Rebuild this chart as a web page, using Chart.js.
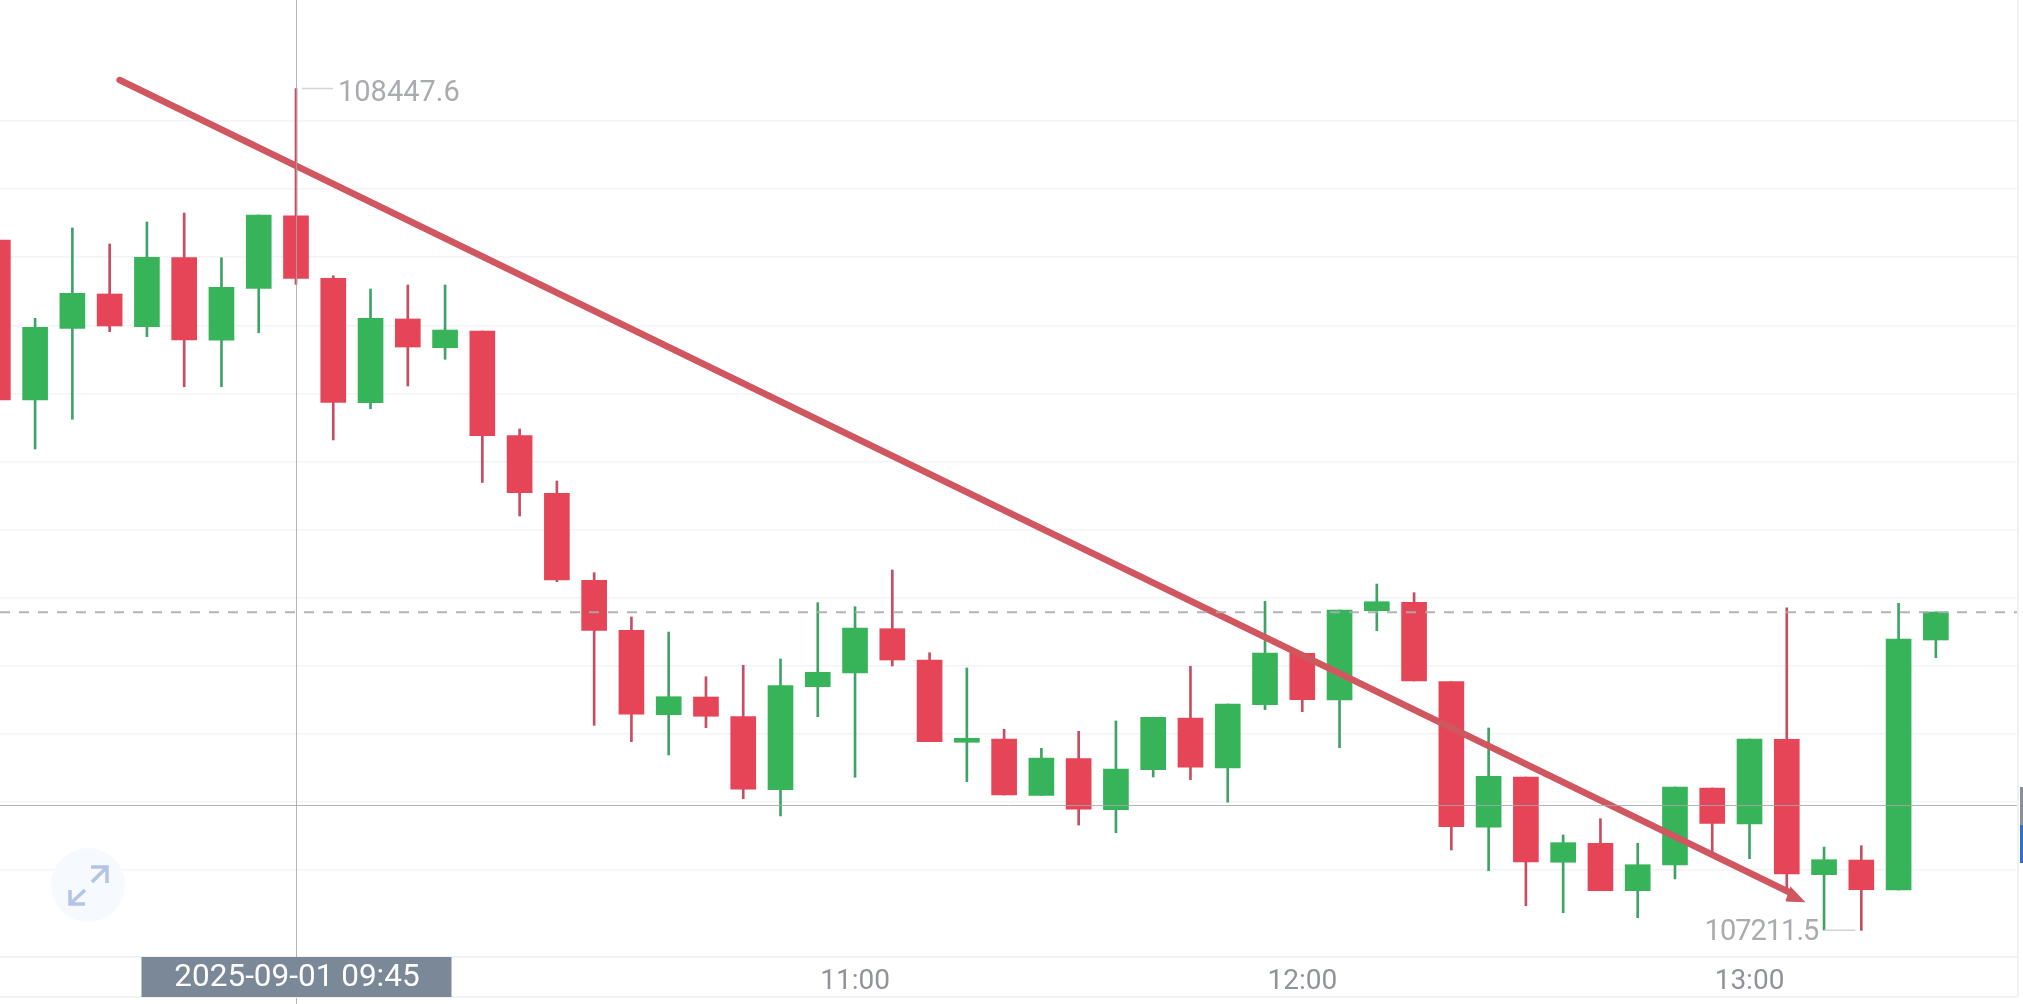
<!DOCTYPE html>
<html>
<head>
<meta charset="utf-8">
<title>BTC 5m candles</title>
<script src="https://cdn.jsdelivr.net/npm/chart.js@4/dist/chart.umd.min.js"></script>
<style>
  html, body { margin: 0; padding: 0; background: #fff; overflow: hidden; }
  canvas { display: block; }
</style>
</head>
<body>
<canvas id="candles" width="2023" height="1004"></canvas>
<script>
// 5 minute candles
const times = ['09:05','09:10','09:15','09:20','09:25','09:30','09:35','09:40','09:45','09:50','09:55','10:00','10:05','10:10','10:15','10:20','10:25','10:30','10:35','10:40','10:45','10:50','10:55','11:00','11:05','11:10','11:15','11:20','11:25','11:30','11:35','11:40','11:45','11:50','11:55','12:00','12:05','12:10','12:15','12:20','12:25','12:30','12:35','12:40','12:45','12:50','12:55','13:00','13:05','13:10','13:15','13:20','13:25'];
const opens = [108225.3,107990.3,108095.6,108146.0,108097.9,108199.3,108078.0,108154.3,108260.9,108169.0,107986.3,108109.3,108067.1,108091.6,107937.9,107853.3,107725.6,107652.1,107528.2,107554.2,107525.3,107418.1,107569.3,107589.4,107654.5,107608.5,107487.7,107492.5,107409.8,107463.6,107388.7,107447.4,107523.4,107449.9,107542.9,107618.4,107549.8,107680.9,107693.3,107576.7,107362.9,107436.7,107311.5,107339.4,107269.8,107307.5,107420.6,107367.7,107492.1,107293.3,107314.8,107270.8,107637.9];
const highs = [108225.3,108110.3,108242.9,108219.4,108251.7,108264.9,108199.3,108262.0,108447.6,108172.8,108153.3,108159.2,108159.2,108091.6,107947.7,107871.4,107736.7,107671.7,107649.6,107584.0,107600.7,107610.0,107692.7,107686.8,107740.7,107619.2,107596.8,107506.8,107478.9,107503.8,107519.0,107524.4,107599.3,107543.9,107694.7,107618.4,107681.9,107720.1,107707.4,107576.7,107508.7,107436.7,107351.6,107375.5,107339.4,107422.0,107420.6,107492.5,107685.3,107333.9,107335.8,107691.8,107679.0];
const lows = [107990.3,107918.4,107962.0,108090.6,108083.3,108009.8,108009.8,108089.1,108160.2,107931.6,107977.5,108010.9,108050.1,107869.2,107820.0,107723.5,107512.6,107488.6,107469.0,107509.1,107404.9,107379.5,107525.3,107436.3,107599.7,107488.6,107429.8,107410.3,107409.8,107366.2,107354.9,107436.7,107432.8,107399.6,107535.6,107532.6,107479.7,107651.6,107577.7,107329.5,107299.1,107247.7,107237.5,107269.8,107230.1,107287.0,107324.7,107316.8,107270.8,107212.1,107211.5,107270.8,107611.9];
const closes = [107990.3,108097.1,108147.0,108099.0,108199.9,108078.4,108155.8,108262.0,108169.0,107986.9,108110.3,108068.1,108093.1,107937.9,107854.2,107726.0,107652.1,107528.8,107554.6,107525.9,107418.7,107570.8,107590.5,107655.5,107608.5,107488.6,107493.6,107410.3,107464.6,107389.3,107448.5,107524.4,107451.0,107543.9,107618.8,107550.2,107681.9,107694.1,107577.7,107363.7,107437.8,107311.9,107340.3,107269.8,107307.9,107422.0,107368.7,107492.5,107294.3,107315.3,107271.2,107639.4,107679.0];

const priceTicks = [107300,107400,107500,107600,107700,107800,107900,108000,108100,108200,108300,108400];
const timeTicks = ['11:00','12:00','13:00'];

// the hand drawn arrow
const arrowX = [3.267, 48.166];
const arrowY = [108460.2, 107264.9];
const arrowHeadX = [48.105, 47.979, 48.489];
const arrowHeadY = [107275.6, 107254.6, 107253.6];

const crossTime = '09:45';
const crossDate = '2025-09-01 09:45';
const crossPrice = 107395.2;
const lastPrice = 107678.6;
const maxPrice = 108447.6;
const minPrice = 107211.5;

const GREEN = '#37b45a';
const RED = '#e64558';
const GREEN_WICK = '#3fa366';
const RED_WICK = '#c94d62';
const ARROW = '#d0565f';
const LABEL_FONT = '29px Roboto';

const isUp = times.map((t, i) => closes[i] >= opens[i]);

const overlay = {
  id: 'overlay',
  afterDatasetsDraw(chart) {
    const { ctx, scales: { x, y }, chartArea: area } = chart;
    const crossX = x.getPixelForValue(times.indexOf(crossTime));
    ctx.save();

    // last price, dashed
    ctx.strokeStyle = 'rgba(170,172,175,0.9)';
    ctx.lineWidth = 2;
    ctx.setLineDash([10, 9]);
    ctx.beginPath();
    ctx.moveTo(area.left, y.getPixelForValue(lastPrice));
    ctx.lineTo(area.right, y.getPixelForValue(lastPrice));
    ctx.stroke();
    ctx.setLineDash([]);

    // crosshair
    ctx.strokeStyle = 'rgba(165,167,170,0.85)';
    ctx.lineWidth = 1;
    ctx.beginPath();
    ctx.moveTo(area.left, Math.round(y.getPixelForValue(crossPrice)) + 0.5);
    ctx.lineTo(area.right, Math.round(y.getPixelForValue(crossPrice)) + 0.5);
    ctx.moveTo(Math.round(crossX) + 0.5, 0);
    ctx.lineTo(Math.round(crossX) + 0.5, chart.height);
    ctx.stroke();

    // high and low labels
    const highY = y.getPixelForValue(maxPrice);
    const lowY = y.getPixelForValue(minPrice);
    const lowX = x.getPixelForValue(times.indexOf('13:15'));
    ctx.strokeStyle = '#d2d3d5';
    ctx.lineWidth = 1.5;
    ctx.beginPath();
    ctx.moveTo(crossX + 6, highY);
    ctx.lineTo(crossX + 37, highY);
    ctx.moveTo(lowX - 6, lowY);
    ctx.lineTo(lowX - 37, lowY);
    ctx.stroke();
    ctx.font = LABEL_FONT;
    ctx.fillStyle = '#a9abaf';
    ctx.textBaseline = 'middle';
    ctx.textAlign = 'left';
    ctx.fillText(String(maxPrice), crossX + 42, highY + 5);
    ctx.textAlign = 'right';
    ctx.letterSpacing = '-1px';
    ctx.fillText(String(minPrice), lowX - 43, lowY + 2);
    ctx.restore();
  },
  afterDraw(chart) {
    const { ctx, scales: { x }, chartArea: area } = chart;
    const crossX = x.getPixelForValue(times.indexOf(crossTime));
    ctx.save();

    // lines closing the time axis
    ctx.fillStyle = '#f0f1f3';
    ctx.fillRect(0, 996, area.right, 2);
    ctx.fillRect(area.right, 0, 2, 997);

    // date tag on the crosshair
    ctx.fillStyle = '#7b8898';
    ctx.fillRect(crossX - 154.5, area.bottom, 310, 40);
    ctx.font = '31.5px Roboto';
    ctx.fillStyle = '#ffffff';
    ctx.textAlign = 'center';
    ctx.textBaseline = 'middle';
    ctx.fillText(crossDate, crossX + 1, area.bottom + 21);

    // expand button
    ctx.fillStyle = '#f6f9fe';
    ctx.beginPath();
    ctx.arc(88, 885, 37, 0, Math.PI * 2);
    ctx.fill();
    ctx.strokeStyle = '#b4c4e4';
    ctx.lineWidth = 3.5;
    ctx.beginPath();
    ctx.moveTo(91, 867); ctx.lineTo(107, 867); ctx.lineTo(107, 883);
    ctx.moveTo(107, 867); ctx.lineTo(92, 882);
    ctx.moveTo(70, 890); ctx.lineTo(70, 904); ctx.lineTo(85, 904);
    ctx.moveTo(70, 904); ctx.lineTo(85, 890);
    ctx.stroke();

    // price tag cut off by the right edge
    ctx.fillStyle = '#8a8f96';
    ctx.fillRect(2020, 787, 3, 38);
    ctx.fillStyle = '#2f6fc4';
    ctx.fillRect(2020, 825, 3, 38);
    ctx.restore();
  }
};

new Chart(document.getElementById('candles'), {
  type: 'bar',
  data: {
    datasets: [
      {
        type: 'line',
        data: arrowX.map((v, i) => ({ x: v, y: arrowY[i] })),
        borderColor: ARROW,
        borderWidth: 6.5,
        borderCapStyle: 'round',
        pointRadius: 0,
        order: 0
      },
      {
        type: 'line',
        data: arrowHeadX.map((v, i) => ({ x: v, y: arrowHeadY[i] })),
        borderColor: ARROW,
        backgroundColor: ARROW,
        borderWidth: 1,
        fill: 'shape',
        pointRadius: 0,
        order: 0
      },
      {
        data: times.map((t, i) => ({ x: i, y: [opens[i], closes[i]] })),
        backgroundColor: isUp.map(up => up ? GREEN : RED),
        barThickness: 25,
        grouped: false,
        minBarLength: 3,
        order: 1
      },
      {
        data: times.map((t, i) => ({ x: i, y: [lows[i], highs[i]] })),
        backgroundColor: isUp.map(up => up ? GREEN_WICK : RED_WICK),
        barThickness: 2,
        grouped: false,
        order: 2
      }
    ]
  },
  options: {
    responsive: false,
    animation: false,
    layout: { padding: { left: 0, right: 6, top: 0, bottom: 0 } },
    plugins: { legend: { display: false }, tooltip: { enabled: false } },
    scales: {
      x: {
        type: 'linear',
        offset: false,
        min: 0.058,
        max: 54.177,
        grid: { display: false },
        border: { color: '#f0f1f3', width: 2 },
        afterBuildTicks: scale => {
          scale.ticks = timeTicks.map(t => ({ value: times.indexOf(t) }));
        },
        afterFit: scale => { scale.height = 47; },
        ticks: {
          autoSkip: false,
          maxRotation: 0,
          padding: 0,
          color: '#909399',
          font: { family: 'Roboto', size: 28 },
          callback: value => times[value]
        }
      },
      y: {
        min: 107172.4,
        max: 108577.7,
        border: { display: false },
        grid: { color: '#f3f4f6', lineWidth: 1.5, drawTicks: false },
        afterBuildTicks: scale => {
          scale.ticks = priceTicks.map(v => ({ value: v }));
        },
        afterFit: scale => { scale.width = 0; },
        ticks: { display: false }
      }
    }
  },
  plugins: [overlay]
});
</script>
</body>
</html>
